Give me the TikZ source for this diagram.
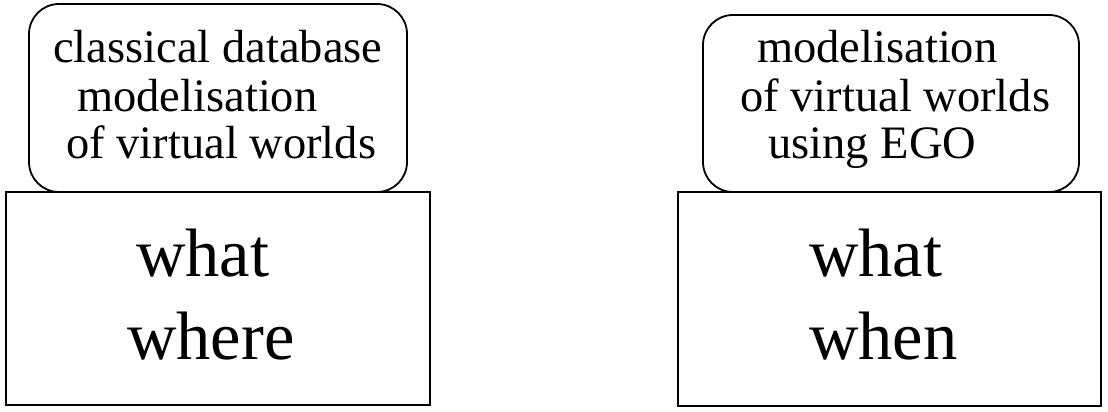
\documentclass[tikz,border=0pt]{standalone}
\usepackage{fontspec}
\setmainfont{Liberation Serif}
\begin{document}
\begin{tikzpicture}[x=1pt,y=-1pt,
  box/.style={draw=black,line width=1.8pt},
  rbox/.style={box,rounded corners=30pt},
  small/.style={anchor=base west,inner sep=0pt,font=\fontsize{46.5}{48}\selectfont},
  big/.style={anchor=base west,inner sep=0pt,font=\fontsize{68.5}{80}\selectfont}]
\useasboundingbox (0,0) rectangle (1108,412);
% left column
\draw[rbox] (29,4) rectangle (407,192);
\draw[box] (6,192) rectangle (430,405);
\node[small] (l1) at (53,63) {classical database};
\node[small] (l2) at (77,111) {modelisation};
\node[small] (l3) at (66,158) {of virtual worlds};
\node[big] (lw1) at (136,276) {what};
\node[big] (lw2) at (127,359) {where};
% right column
\draw[rbox] (703,15) rectangle (1079,192);
\draw[box] (678,192) rectangle (1101,406);
\node[small] (r1) at (757,63) {modelisation};
\node[small] (r2) at (740,111) {of virtual worlds};
\node[small] (r3) at (768,158) {using EGO};
\node[big] (rw1) at (809,276) {what};
\node[big] (rw2) at (809,359) {when};
\end{tikzpicture}
\end{document}
